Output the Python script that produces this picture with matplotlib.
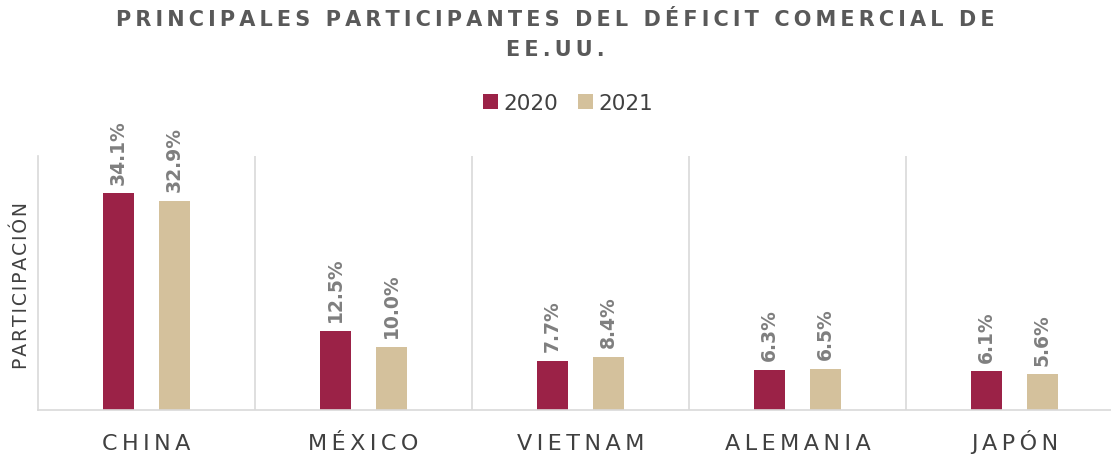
import matplotlib
matplotlib.use("Agg")
import matplotlib.pyplot as plt
import matplotlib.transforms as mtransforms
import numpy as np

categories = ["CHINA", "MÉXICO", "VIETNAM", "ALEMANIA", "JAPÓN"]
series_names = ["2020", "2021"]
values_2020 = [34.1, 12.5, 7.7, 6.3, 6.1]
values_2021 = [32.9, 10.0, 8.4, 6.5, 5.6]
title_lines = ["PRINCIPALES PARTICIPANTES DEL DÉFICIT COMERCIAL DE", "EE.UU."]
ylabel = "PARTICIPACIÓN"

colors = ["#9B2247", "#D4C19C"]

def spaced(s, sep="\u2009"):
    return "\n".join(sep.join(list(line)) for line in s.split("\n"))

plt.rcParams['font.family'] = ['DejaVu Sans']

W, H = 1111, 456
fig = plt.figure(figsize=(W / 100, H / 100), dpi=100)
left, right_px, bottom_px, top_px = 38, 1111, 411, 157
ax = fig.add_axes([left / W, (H - bottom_px) / H, (right_px - left) / W, (bottom_px - top_px) / H])

x = np.arange(len(categories))
bw = 0.143
off = 0.129
b1 = ax.bar(x - off, values_2020, bw, color=colors[0], label=series_names[0])
b2 = ax.bar(x + off, values_2021, bw, color=colors[1], label=series_names[1])

for bars, vals in ((b1, values_2020), (b2, values_2021)):
    for rect, v in zip(bars, vals):
        ax.annotate(f"{v:.1f}%", (rect.get_x() + rect.get_width() / 2, rect.get_height()),
                    xytext=(0, 7), textcoords="offset points", rotation=90,
                    ha="center", va="bottom", fontsize=13.5, fontweight="bold", color="#7F7F7F")

ax.set_xlim(-0.5, -0.5 + (right_px - left) / 217)
ax.set_ylim(0, 40)
for xs in np.arange(0.5, len(categories) - 0.5, 1):
    ax.axvline(xs, color="#D9D9D9", lw=1.2, zorder=0)

for s in ["top", "right"]:
    ax.spines[s].set_visible(False)
ax.spines["left"].set_color("#D9D9D9")
ax.spines["left"].set_linewidth(1.2)
ax.spines["bottom"].set_color("#D9D9D9")
ax.spines["bottom"].set_linewidth(1.2)
ax.set_yticks([])
ax.set_xticks([])

trans = mtransforms.blended_transform_factory(ax.transData, fig.transFigure)
for xi, c in zip(x, categories):
    ax.text(xi, 1 - 450 / H, spaced(c), transform=trans, ha="center", va="baseline",
            fontsize=16, color="#404040", clip_on=False)

fig.text(22 / W, 1 - 286 / H, spaced(ylabel, "\u200a"), rotation=90, ha="center", va="center",
         fontsize=13.5, color="#404040")

fig.text(0.5, 1 - 20 / H, spaced(title_lines[0]),
         ha="center", va="center", fontsize=15, fontweight="bold", color="#595959")
fig.text(0.5, 1 - 50 / H, spaced(title_lines[1]),
         ha="center", va="center", fontsize=15, fontweight="bold", color="#595959")

leg = fig.legend(handles=[b1, b2], labels=series_names, loc="center", bbox_to_anchor=(568 / W, 1 - 104 / H),
                 ncol=2, frameon=False, fontsize=15.5, handlelength=0.7, handleheight=0.7,
                 handletextpad=0.25, columnspacing=0.9, labelcolor="#404040")

fig.savefig("out.png", dpi=100)
